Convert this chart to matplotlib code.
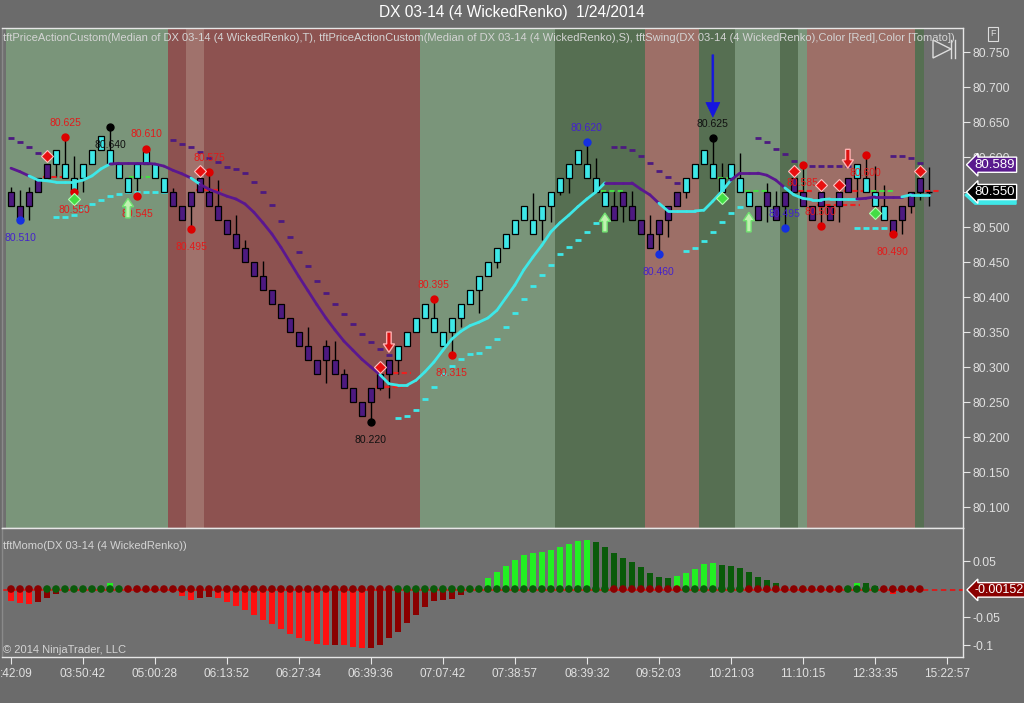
import numpy as np
import matplotlib
matplotlib.use('Agg')
import matplotlib.pyplot as plt
import matplotlib.transforms as mtrans
from matplotlib.patches import Rectangle, FancyArrow, Polygon
from matplotlib.collections import LineCollection

plt.rcParams['font.family'] = ['Liberation Sans', 'DejaVu Sans']

# ---------------- data ----------------
title = "DX 03-14 (4 WickedRenko)  1/24/2014"
indicator_label = ("tftPriceActionCustom(Median of DX 03-14 (4 WickedRenko),T), "
                   "tftPriceActionCustom(Median of DX 03-14 (4 WickedRenko),S), "
                   "tftSwing(DX 03-14 (4 WickedRenko),Color [Red],Color [Tomato])")
momo_label = "tftMomo(DX 03-14 (4 WickedRenko))"
copyright_text = "\u00a9 2014 NinjaTrader, LLC"

time_labels = [":42:09", "03:50:42", "05:00:28", "06:13:52", "06:27:34", "06:39:36", "07:07:42",
               "07:38:57", "08:39:32", "09:52:03", "10:21:03", "11:10:15", "12:33:35", "15:22:57"]
time_label_bars = [0, 8, 16, 24, 32, 40, 48, 56, 64, 72, 80, 88, 96, 104]

opens = [80.55, 80.53, 80.53, 80.55, 80.57, 80.59, 80.59, 80.57, 80.57, 80.59,
         80.61, 80.61, 80.59, 80.57, 80.57, 80.59, 80.59, 80.57, 80.55, 80.53,
         80.53, 80.55, 80.55, 80.53, 80.51, 80.49, 80.47, 80.45, 80.43, 80.41,
         80.39, 80.37, 80.35, 80.33, 80.31, 80.31, 80.31, 80.29, 80.27, 80.25,
         80.25, 80.27, 80.29, 80.31, 80.33, 80.35, 80.37, 80.37, 80.35, 80.35,
         80.37, 80.39, 80.41, 80.43, 80.45, 80.47, 80.49, 80.51, 80.51, 80.51,
         80.53, 80.55, 80.57, 80.59, 80.59, 80.57, 80.55, 80.53, 80.53, 80.53,
         80.51, 80.49, 80.49, 80.51, 80.53, 80.55, 80.57, 80.59, 80.59, 80.57,
         80.57, 80.57, 80.55, 80.53, 80.53, 80.53, 80.53, 80.55, 80.55, 80.53,
         80.53, 80.53, 80.53, 80.55, 80.57, 80.57, 80.55, 80.53, 80.51, 80.51,
         80.53, 80.55, 80.55]
closes = [80.53, 80.51, 80.55, 80.57, 80.59, 80.61, 80.57, 80.55, 80.59, 80.61,
          80.63, 80.59, 80.57, 80.55, 80.59, 80.61, 80.57, 80.55, 80.53, 80.51,
          80.55, 80.57, 80.53, 80.51, 80.49, 80.47, 80.45, 80.43, 80.41, 80.39,
          80.37, 80.35, 80.33, 80.31, 80.29, 80.33, 80.29, 80.27, 80.25, 80.23,
          80.27, 80.29, 80.31, 80.33, 80.35, 80.37, 80.39, 80.35, 80.33, 80.37,
          80.39, 80.41, 80.43, 80.45, 80.47, 80.49, 80.51, 80.53, 80.49, 80.53,
          80.55, 80.57, 80.59, 80.61, 80.57, 80.55, 80.53, 80.51, 80.55, 80.51,
          80.49, 80.47, 80.51, 80.53, 80.55, 80.57, 80.59, 80.61, 80.57, 80.55,
          80.59, 80.55, 80.53, 80.51, 80.55, 80.51, 80.55, 80.57, 80.53, 80.51,
          80.55, 80.51, 80.55, 80.57, 80.59, 80.55, 80.53, 80.51, 80.49, 80.53,
          80.55, 80.57, 80.55]
highs = [80.557, 80.553, 80.557, 80.57, 80.59, 80.61, 80.629, 80.601, 80.59, 80.61,
         80.63, 80.643, 80.59, 80.57, 80.59, 80.612, 80.59, 80.57, 80.556, 80.53,
         80.55, 80.57, 80.578, 80.567, 80.51, 80.517, 80.481, 80.45, 80.451, 80.41,
         80.39, 80.37, 80.35, 80.357, 80.31, 80.339, 80.337, 80.297, 80.27, 80.25,
         80.27, 80.29, 80.31, 80.33, 80.35, 80.37, 80.39, 80.397, 80.35, 80.37,
         80.39, 80.41, 80.43, 80.45, 80.47, 80.49, 80.51, 80.53, 80.549, 80.53,
         80.55, 80.57, 80.59, 80.61, 80.621, 80.599, 80.55, 80.551, 80.55, 80.551,
         80.51, 80.517, 80.51, 80.53, 80.55, 80.57, 80.59, 80.61, 80.627, 80.591,
         80.59, 80.606, 80.55, 80.53, 80.563, 80.551, 80.55, 80.57, 80.589, 80.53,
         80.55, 80.53, 80.563, 80.57, 80.59, 80.603, 80.587, 80.56, 80.51, 80.53,
         80.55, 80.57, 80.586]
lows = [80.53, 80.51, 80.51, 80.55, 80.57, 80.571, 80.57, 80.55, 80.55, 80.59,
        80.61, 80.59, 80.57, 80.55, 80.545, 80.59, 80.57, 80.55, 80.53, 80.51,
        80.497, 80.55, 80.53, 80.51, 80.49, 80.47, 80.45, 80.43, 80.41, 80.39,
        80.37, 80.35, 80.33, 80.31, 80.29, 80.277, 80.29, 80.27, 80.25, 80.23,
        80.221, 80.267, 80.256, 80.29, 80.33, 80.35, 80.37, 80.35, 80.33, 80.317,
        80.357, 80.39, 80.377, 80.43, 80.441, 80.47, 80.49, 80.51, 80.49, 80.481,
        80.507, 80.546, 80.549, 80.59, 80.57, 80.55, 80.53, 80.51, 80.507, 80.51,
        80.49, 80.47, 80.461, 80.486, 80.53, 80.541, 80.57, 80.59, 80.57, 80.55,
        80.57, 80.55, 80.53, 80.51, 80.507, 80.51, 80.498, 80.55, 80.53, 80.51,
        80.501, 80.51, 80.507, 80.55, 80.54, 80.55, 80.53, 80.51, 80.49, 80.49,
        80.52, 80.539, 80.53]
# candle colour: P = purple, C = cyan
candle_colors = "PPPPP" + "C" * 13 + "P" * 25 + "C" * 24 + "P" * 8 + "C" * 8 + "P" * 11 + "C" * 4 + "P" * 5

ma_values = [80.584, 80.579, 80.573, 80.567, 80.566, 80.564, 80.564, 80.564, 80.567, 80.573,
             80.583, 80.590, 80.591, 80.591, 80.591, 80.591, 80.590, 80.587, 80.581, 80.576,
             80.570, 80.561, 80.554, 80.549, 80.544, 80.540, 80.533, 80.521, 80.506, 80.490,
             80.471, 80.450, 80.429, 80.409, 80.389, 80.370, 80.353, 80.337, 80.324, 80.311,
             80.300, 80.289, 80.276, 80.274, 80.274, 80.281, 80.293, 80.307, 80.324, 80.340,
             80.351, 80.359, 80.364, 80.370, 80.381, 80.399, 80.417, 80.439, 80.457, 80.474,
             80.493, 80.506, 80.517, 80.529, 80.540, 80.550, 80.563, 80.563, 80.563, 80.563,
             80.554, 80.546, 80.534, 80.523, 80.523, 80.523, 80.523, 80.524, 80.537, 80.551,
             80.567, 80.577, 80.577, 80.577, 80.574, 80.567, 80.556, 80.546, 80.541, 80.539,
             80.539, 80.540, 80.540, 80.540, 80.540, 80.541, 80.543, 80.543, 80.543, 80.543,
             80.546, 80.546, 80.546]
# colour of the segment ending at each bar
ma_colors = "PPP" + "C" * 9 + "P" * 9 + "C" + "P" * 20 + "C" * 25 + "P" * 6 + "C" * 8 + "P" * 6 + "C" * 8 + "P" * 5 + "C" * 3

upper_stop_bars = [0, 1, 2, 3, 18, 19, 20, 21, 22, 23, 24, 25, 26, 27, 28, 29, 30, 31, 32, 33,
                   34, 35, 36, 37, 38, 39, 40, 41, 42, 67, 68, 69, 70, 71, 72, 73, 74,
                   83, 84, 85, 86, 87, 88, 89, 90, 91, 92, 93, 98, 99, 100, 101]
upper_stop_vals = [80.627, 80.621, 80.614, 80.606, 80.624, 80.619, 80.614, 80.607, 80.599, 80.593,
                   80.586, 80.583, 80.577, 80.564, 80.550, 80.531, 80.509, 80.486, 80.464, 80.444,
                   80.423, 80.406, 80.390, 80.376, 80.361, 80.347, 80.336, 80.326, 80.317,
                   80.614, 80.614, 80.610, 80.601, 80.591, 80.580, 80.571, 80.563,
                   80.627, 80.621, 80.611, 80.604, 80.594, 80.587, 80.587, 80.587, 80.587, 80.587, 80.587,
                   80.601, 80.601, 80.599, 80.591]
lower_stop_bars = [5, 6, 7, 8, 9, 10, 11, 12, 13, 14, 15, 16, 17,
                   43, 44, 45, 46, 47, 48, 49, 50, 51, 52, 53, 54, 55, 56, 57, 58, 59, 60, 61, 62, 63, 64, 65,
                   75, 76, 77, 78, 79, 80, 81, 82, 94, 95, 96, 97]
lower_stop_vals = [80.514, 80.514, 80.517, 80.526, 80.533, 80.539, 80.544, 80.547, 80.550, 80.550, 80.550, 80.550, 80.550,
                   80.227, 80.230, 80.239, 80.254, 80.271, 80.290, 80.301, 80.311, 80.319, 80.320, 80.329, 80.340,
                   80.357, 80.377, 80.397, 80.416, 80.431, 80.446, 80.461, 80.471, 80.481, 80.493, 80.506,
                   80.466, 80.470, 80.480, 80.493, 80.507, 80.520, 80.529, 80.533, 80.499, 80.499, 80.499, 80.499]

# short price-action level lines: (start bar, end bar, value, colour)
level_lines = [(4, 6, 80.571, 'r'), (13.5, 15, 80.571, 'g'), (21, 23, 80.553, 'r'),
               (41, 43, 80.271, 'r'), (42, 44, 80.291, 'r'), (66, 68, 80.551, 'g'),
               (79, 80, 80.570, 'g'), (82, 84, 80.551, 'g'), (87, 89, 80.551, 'r'),
               (90, 94, 80.531, 'r'), (93, 95, 80.551, 'r'), (96, 98, 80.551, 'g'),
               (102, 103, 80.551, 'r')]

# swing points: bar, value, colour, label, side
swing_bars = [1, 6, 11, 7, 14, 15, 20, 22, 40, 47, 49, 64, 72, 78, 86, 88, 90, 95, 98]
swing_vals = [80.510, 80.628, 80.643, 80.550, 80.545, 80.612, 80.497, 80.578, 80.221, 80.397,
              80.317, 80.621, 80.461, 80.627, 80.498, 80.589, 80.501, 80.603, 80.490]
swing_labels = ["80.510", "80.625", "80.640", "80.550", "80.545", "80.610", "80.495", "80.575", "80.220",
                "80.395", "80.315", "80.620", "80.460", "80.625", "80.495", "80.585", "80.500", "80.600", "80.490"]
swing_kinds = "brkrrrrrkrrbbkbrrrr"
swing_sides = "dudddududududuududd"

red_diamond_bars = [4, 21, 41, 87, 90, 92, 101]
red_diamond_vals = [80.601, 80.580, 80.300, 80.580, 80.560, 80.560, 80.580]
green_diamond_bars = [7, 79, 96]
green_diamond_vals = [80.540, 80.541, 80.520]

up_arrow_bars = [13, 66, 82]
up_arrow_tails = [80.513, 80.493, 80.493]
up_arrow_tips = [80.541, 80.520, 80.521]
down_arrow_bars = [42, 93]
down_arrow_tails = [80.350, 80.611]
down_arrow_tips = [80.321, 80.584]
blue_arrow_bar = 78
blue_arrow_tail = 80.746
blue_arrow_tip = 80.657

momentum = [-0.021, -0.025, -0.027, -0.023, -0.016, -0.009, 0.0, 0.0, 0.0, 0.0,
            0.0, 0.010, 0.004, 0.0, 0.0, 0.0, 0.0, 0.0, -0.005, -0.013,
            -0.020, -0.016, -0.014, -0.016, -0.023, -0.031, -0.038, -0.046, -0.055, -0.062,
            -0.071, -0.080, -0.088, -0.092, -0.098, -0.100, -0.100, -0.100, -0.103, -0.106,
            -0.106, -0.100, -0.088, -0.077, -0.061, -0.046, -0.032, -0.021, -0.019, -0.017,
            -0.010, 0.0, 0.0, 0.019, 0.031, 0.041, 0.052, 0.061, 0.064, 0.066,
            0.070, 0.075, 0.080, 0.086, 0.088, 0.084, 0.075, 0.064, 0.055, 0.048,
            0.039, 0.029, 0.021, 0.019, 0.023, 0.029, 0.036, 0.044, 0.047, 0.043,
            0.041, 0.037, 0.030, 0.021, 0.016, 0.010, 0.002, 0.004, 0.006, 0.0,
            0.0, 0.0, 0.0, 0.004, 0.011, 0.010, 0.005, 0.0, -0.008, -0.006,
            -0.003, -0.002]
# R bright red, r dark red, G bright green, g dark green
momentum_colors = ("RRRrrr" + "ggggg" + "Gg" + "rrrrr" + "RRRrr" + "R" * 13 + "r" + "RRR" + "r" * 11 +
                   "gg" + "G" * 12 + "g" * 9 + "G" * 5 + "g" * 8 + "GG" + "rrrr" + "GGgg" + "r" + "R" + "rrr")
momentum_dot_colors = "rrrr" + "g" * 9 + "r" * 30 + "g" * 24 + "r" * 8 + "g" * 7 + "r" * 11 + "g" * 4 + "r" * 5
momentum_last = -0.00152
last_price = 80.550
last_stop = 80.589
last_ma = 80.5455

# ---------------- figure ----------------
W, H = 1024, 703
BG = '#6b6b6b'
fig = plt.figure(figsize=(W / 100, H / 100), dpi=100, facecolor=BG)


def frac_box(x0, y0, x1, y1):
    return [x0 / W, 1 - y1 / H, (x1 - x0) / W, (y1 - y0) / H]


ax = fig.add_axes(frac_box(2, 28, 963, 528))
ax2 = fig.add_axes(frac_box(2, 528, 963, 657), sharex=ax)
for a in (ax, ax2):
    a.set_facecolor('#6f6f6f')

ax.set_xlim(-1.0, 105.8)
ax.set_ylim(80.07, 80.7843)
ax2.set_ylim(-0.1214, 0.109)

PURPLE = '#4d1a80'
CYAN = '#3ee8e8'

# background bands
bands = [(-0.5, 17.5, '#7a957a'), (17.5, 19.5, '#8d5250'), (19.5, 21.5, '#a0726c'),
         (21.5, 45.5, '#8d5250'), (45.5, 60.5, '#7a957a'), (60.5, 70.5, '#566f52'),
         (70.5, 76.5, '#9d6f67'), (76.5, 80.5, '#566f52'), (80.5, 85.5, '#7a957a'),
         (85.5, 87.5, '#566f52'), (87.5, 88.5, '#7a957a'), (88.5, 100.5, '#9d6f67'),
         (100.5, 101.5, '#566f52')]
for a0, a1, c in bands:
    ax.axvspan(a0, a1, color=c, lw=0, zorder=0)

# candles
n = len(opens)
for i in range(n):
    ax.vlines(i, lows[i], highs[i], color='black', lw=1.0, zorder=3)
    lo, hi = min(opens[i], closes[i]), max(opens[i], closes[i])
    fc = CYAN if candle_colors[i] == 'C' else PURPLE
    if hi - lo > 1e-9:
        ax.add_patch(Rectangle((i - 0.34, lo), 0.68, hi - lo, fc=fc, ec='black', lw=0.9, zorder=4))
    else:
        ax.hlines(lo, i - 0.34, i + 0.34, color='black', lw=1, zorder=4)

# moving average line (two colours)
segs, cols = [], []
for i in range(1, n):
    segs.append([(i - 1, ma_values[i - 1]), (i, ma_values[i])])
    cols.append(CYAN if ma_colors[i] == 'C' else '#5a1790')
ax.add_collection(LineCollection(segs, colors=cols, linewidths=2.0, capstyle='round', zorder=5))

# stop dashes
ax.add_collection(LineCollection([[(b - 0.33, v), (b + 0.33, v)] for b, v in zip(upper_stop_bars, upper_stop_vals)],
                                 colors=PURPLE, linewidths=2.0, zorder=3))
ax.add_collection(LineCollection([[(b - 0.33, v), (b + 0.33, v)] for b, v in zip(lower_stop_bars, lower_stop_vals)],
                                 colors=CYAN, linewidths=2.0, zorder=3))

for b0, b1, v, c in level_lines:
    ax.hlines(v, b0 - 0.4, b1 + 0.4, color='#ee2020' if c == 'r' else '#44dd44', lw=1.5,
              linestyles=(0, (2.5, 1.5)), zorder=3)

# swing points and labels
kind_color = {'r': '#dd0000', 'b': '#1530e0', 'k': '#000000'}
text_color = {'r': '#e21b1b', 'b': '#4422cc', 'k': '#111111'}
for b, v, lab, k, s in zip(swing_bars, swing_vals, swing_labels, swing_kinds, swing_sides):
    ax.plot(b, v, 'o', ms=5, color=kind_color[k], zorder=6)
    off = 10.5 if s == 'u' else -13.0
    ax.annotate(lab, (b, v), xytext=(0, off), textcoords='offset points', ha='center', va='center',
                fontsize=7.5, color=text_color[k], zorder=7)

ax.plot(red_diamond_bars, red_diamond_vals, 'D', ms=6.5, color='#e81010', mec='#ffc0c0', mew=0.8, zorder=7, ls='none')
ax.plot(green_diamond_bars, green_diamond_vals, 'D', ms=6.5, color='#44dd44', mec='#b0ffb0', mew=0.8, zorder=7, ls='none')

for b, t, p in zip(up_arrow_bars, up_arrow_tails, up_arrow_tips):
    ax.add_patch(FancyArrow(b, t, 0, p - t, width=0.5, head_width=1.25, head_length=0.012,
                            length_includes_head=True, fc='#c0f2b0', ec='#70e070', lw=1.0, zorder=8))
for b, t, p in zip(down_arrow_bars, down_arrow_tails, down_arrow_tips):
    ax.add_patch(FancyArrow(b, t, 0, p - t, width=0.5, head_width=1.25, head_length=0.012,
                            length_includes_head=True, fc='#dd1111', ec='#ffb0b0', lw=1.0, zorder=8))
ax.add_patch(FancyArrow(blue_arrow_bar, blue_arrow_tail, 0, blue_arrow_tip - blue_arrow_tail, width=0.2,
                        head_width=1.55, head_length=0.021, length_includes_head=True,
                        fc='#1515e0', ec='#1515e0', lw=0.5, zorder=8))

# ---------------- momentum panel ----------------
mcol = {'R': '#ff1010', 'r': '#8a0000', 'G': '#22f022', 'g': '#0a5a0a'}
idx = np.arange(len(momentum))
ax2.bar(idx, momentum, width=0.68, color=[mcol[c] for c in momentum_colors], zorder=2)
ax2.axhline(momentum_last, color='#e01818', lw=1.3, ls=(0, (3, 2)), zorder=2)
dcol = {'r': '#8a0000', 'g': '#0a5a0a'}
ax2.scatter(idx, np.zeros(len(idx)), s=30, c=[dcol[c] for c in momentum_dot_colors], zorder=3, lw=0)

# ---------------- axes styling ----------------
LINE = '#e6e6e6'
TXT = '#e0e0e0'
for a in (ax, ax2):
    for sp in a.spines.values():
        sp.set_color(LINE)
        sp.set_linewidth(1.0)
    a.spines['left'].set_color('#8a8a8a')
    a.yaxis.tick_right()
    a.tick_params(axis='y', colors=LINE, labelcolor=TXT, labelsize=8.8, direction='out', length=5, pad=2)

ax.set_yticks(np.round(np.arange(80.10, 80.751, 0.05), 3))
ax.yaxis.set_major_formatter(matplotlib.ticker.FormatStrFormatter('%.3f'))
ax.tick_params(axis='x', bottom=False, labelbottom=False)

ax2.set_yticks([0.05, -0.05, -0.1])
ax2.set_yticklabels(['0.05', '-0.05', '-0.1'])
ax2.set_xticks(time_label_bars)
ax2.set_xticklabels(time_labels)
ax2.tick_params(axis='x', colors=LINE, labelcolor=TXT, labelsize=8.5, direction='out', length=5, pad=3)
first = ax2.get_xticklabels()[0]
first.set_transform(first.get_transform() + mtrans.ScaledTranslation(5 / 100, 0, fig.dpi_scale_trans))

# right-hand value boxes
trans_main = mtrans.blended_transform_factory(ax.transAxes, ax.transData)
trans_low = mtrans.blended_transform_factory(ax2.transAxes, ax2.transData)
half = 9 / 700.0
ax.add_patch(Polygon([(1.0125, last_ma + half), (1.0552, last_ma + half), (1.0552, last_ma - half),
                      (1.0125, last_ma - half), (1.0021, last_ma)], closed=True, transform=trans_main,
                     fc=CYAN, ec=CYAN, lw=1, clip_on=False, zorder=19))
ax.text(1.012, last_stop, '80.589', transform=trans_main, va='center', ha='left', fontsize=9.5, color='white',
        bbox=dict(boxstyle='larrow,pad=0.12', fc='#5a1a8e', ec='white', lw=1), clip_on=False, zorder=20)
ax.text(1.012, last_price, '80.550', transform=trans_main, va='center', ha='left', fontsize=9.5, color='white',
        bbox=dict(boxstyle='larrow,pad=0.12', fc='black', ec='white', lw=1), clip_on=False, zorder=20)
ax2.text(1.012, momentum_last, '-0.00152', transform=trans_low, va='center', ha='left', fontsize=9, color='white',
         bbox=dict(boxstyle='larrow,pad=0.1', fc='#8a0000', ec='white', lw=1), clip_on=False, zorder=20)

# texts
fig.text(512 / W, 1 - 13 / H, title, ha='center', va='center', fontsize=11.2, color='white')
fig.text(3 / W, 1 - 38 / H, indicator_label, ha='left', va='center', fontsize=8.05, color='#d4d4d4')
fig.text(3 / W, 1 - 546 / H, momo_label, ha='left', va='center', fontsize=8.0, color='#d4d4d4')
fig.text(3 / W, 1 - 650 / H, copyright_text, ha='left', va='center', fontsize=8.0, color='#d4d4d4')
fig.text(993 / W, 1 - 34 / H, 'F', ha='center', va='center', fontsize=6.5, color='#dddddd',
         bbox=dict(boxstyle='square,pad=0.25', fc='none', ec='#dddddd', lw=0.8))

# play / pause style icon drawn as shapes (top right of price panel)
icon_tri = [(933, 40), (951, 49), (933, 58)]
fig.add_artist(Polygon([(x / W, 1 - y / H) for x, y in icon_tri], closed=True, fill=False,
                       ec='#dddddd', lw=1.0, transform=fig.transFigure))
for xb in (951, 955):
    fig.add_artist(plt.Line2D([xb / W, xb / W], [1 - 40 / H, 1 - 58 / H], color='#dddddd', lw=1.0,
                              transform=fig.transFigure))

fig.savefig('out.png', dpi=100, facecolor=BG)
